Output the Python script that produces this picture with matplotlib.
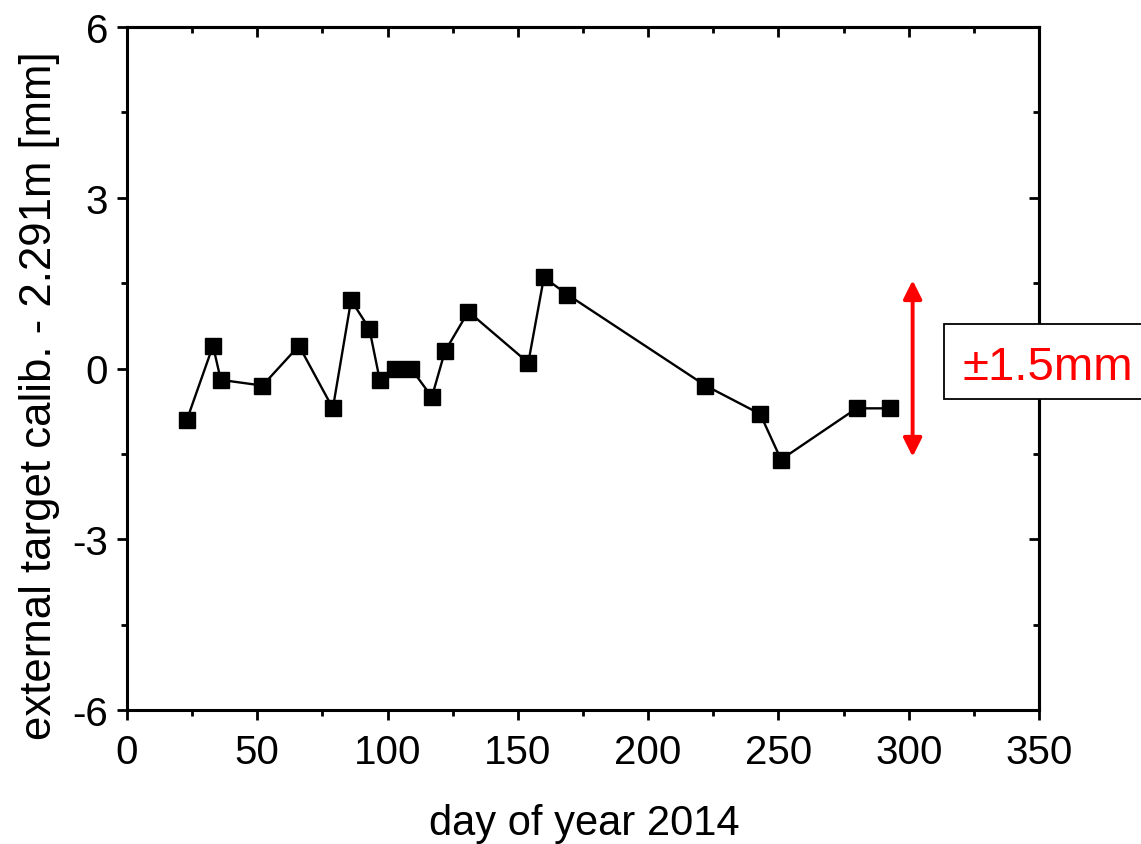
import matplotlib
matplotlib.use('Agg')
import matplotlib.pyplot as plt
from matplotlib.patches import Rectangle
from matplotlib.ticker import MultipleLocator

plt.rcParams['font.family'] = ['Liberation Sans', 'DejaVu Sans']
plt.rcParams['axes.unicode_minus'] = False

# data
day = [23, 33, 36, 52, 66, 79, 86, 93, 97, 103, 109, 117, 122, 131,
       154, 160, 169, 222, 243, 251, 280, 293]
offset_mm = [-0.9, 0.4, -0.2, -0.3, 0.4, -0.7, 1.2, 0.7, -0.2, 0.0, 0.0, -0.5, 0.3, 1.0,
             0.1, 1.6, 1.3, -0.3, -0.8, -1.6, -0.7, -0.7]
band_mm = 1.5
band_label = '\u00b11.5mm'

W, H = 1141, 845
fig = plt.figure(figsize=(W / 100, H / 100), dpi=100)
ax = fig.add_axes([127 / W, 1 - 711 / H, (1039 - 127) / W, (711 - 28) / H])

ax.plot(day, offset_mm, '-', color='black', lw=1.7, marker='s', ms=11.5,
        mfc='black', mec='black', zorder=3)

ax.set_xlim(0, 350)
ax.set_ylim(-6, 6)
ax.xaxis.set_major_locator(MultipleLocator(50))
ax.xaxis.set_minor_locator(MultipleLocator(25))
ax.yaxis.set_major_locator(MultipleLocator(3))
ax.yaxis.set_minor_locator(MultipleLocator(1.5))

for sp in ax.spines.values():
    sp.set_linewidth(2.2)

ax.tick_params(which='both', labelsize=29, width=2.0, direction='out',
               top=False, right=False)
ax.tick_params(which='major', length=7.5)
ax.tick_params(which='minor', length=4)
ax.tick_params(axis='x', which='major', pad=9)
ax.tick_params(axis='y', which='major', pad=6)

# inward ticks on top and right, no labels
sec_x = ax.secondary_xaxis('top')
sec_x.xaxis.set_major_locator(MultipleLocator(50))
sec_x.xaxis.set_minor_locator(MultipleLocator(25))
sec_x.tick_params(which='both', direction='in', width=2.0, labeltop=False)
sec_x.tick_params(which='major', length=7.5)
sec_x.tick_params(which='minor', length=4)
sec_x.spines['top'].set_linewidth(2.2)
sec_y = ax.secondary_yaxis('right')
sec_y.yaxis.set_major_locator(MultipleLocator(3))
sec_y.yaxis.set_minor_locator(MultipleLocator(1.5))
sec_y.tick_params(which='both', direction='in', width=2.0, labelright=False)
sec_y.tick_params(which='major', length=7.5)
sec_y.tick_params(which='minor', length=4)
sec_y.spines['right'].set_linewidth(2.2)

fig.text(584 / W, 1 - 824 / H, 'day of year 2014', fontsize=30,
         ha='center', va='center')
fig.text(40 / W, 1 - 396 / H, 'external target calib. - 2.291m [mm]',
         fontsize=31.5, rotation=90, ha='center', va='center')

# red double arrow showing the band
ax.annotate('', xy=(301.5, band_mm + 0.05), xytext=(301.5, -band_mm - 0.05),
            arrowprops=dict(arrowstyle='<|-|>', color='red', lw=2.8,
                            mutation_scale=28, shrinkA=0, shrinkB=0))

# boxed label, runs off the right edge of the figure
fig.patches.append(Rectangle((944 / W, 1 - 400 / H), 300 / W, 75 / H,
                             transform=fig.transFigure, facecolor='white',
                             edgecolor='black', lw=1.3, zorder=5))
fig.text(962 / W, 1 - 368 / H, band_label, color='red', fontsize=34,
         ha='left', va='center', zorder=6)

fig.savefig('out.png', dpi=100)
